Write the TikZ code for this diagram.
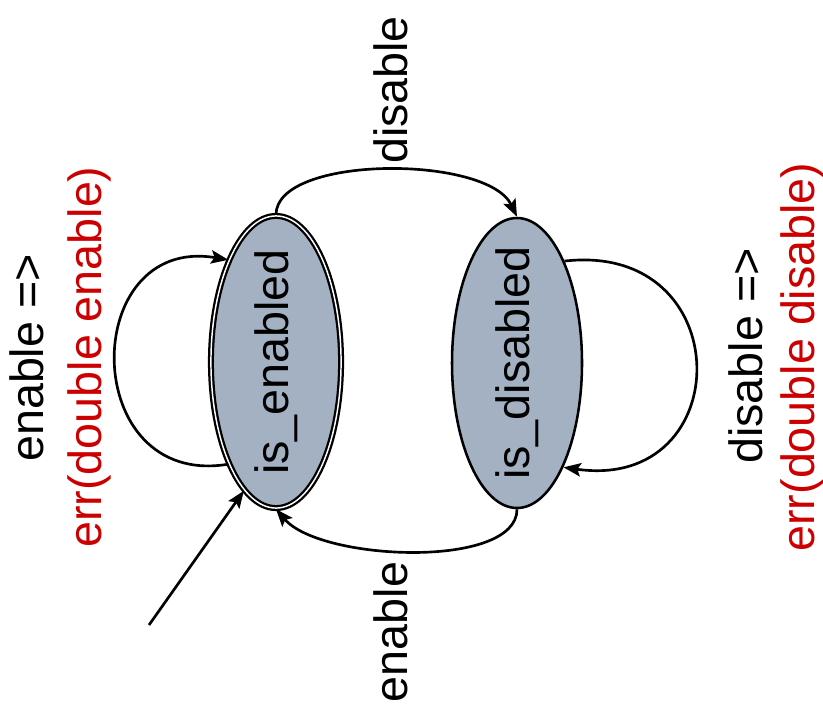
\documentclass[tikz,border=0pt]{standalone}
\usepackage{fontspec}
\setmainfont{Liberation Sans}
\usepackage{xcolor}
\usepackage{tikz}
\usetikzlibrary{shapes,arrows.meta,positioning}
\tikzset{>={Stealth[length=13pt,width=10pt,inset=2.5pt]}}
\definecolor{statefill}{RGB}{163,177,194}
\definecolor{errred}{RGB}{204,0,0}
\newcommand{\vtext}[1]{\rotatebox{90}{\makebox[0pt]{#1}}}

\begin{document}
\begin{tikzpicture}[x=0.75pt,y=-0.75pt,
                    state/.style={ellipse, draw, line width=1.9pt, fill=statefill, inner sep=0pt,
                                  minimum width=97.5pt, minimum height=217.5pt,
                                  font=\fontsize{35}{40}\selectfont},
                    startstate/.style={state, line width=1.7pt, double=white, double distance=1.1pt,
                                       minimum width=97.6pt, minimum height=219.1pt},
                    trans/.style={line width=2pt, ->},
                    lab/.style={rotate=90, anchor=base, inner sep=0pt, font=\fontsize{35}{40}\selectfont},
                    errlab/.style={lab, text=errred},
                   ]

\useasboundingbox (0,0) rectangle (823,720);

\node[startstate] (en) at (276,362) {\vtext{is\_enabled}};
\node[state] (dis) at (517,363) {\vtext{is\_disabled}};

\coordinate (init) at (149,625);
\draw[trans] (init) -- (en.256);

\draw[trans] (en.north) .. controls +(0,-60) and +(-30,-62) .. (dis.north);
\draw[trans] (dis.south) .. controls +(0,60) and +(45,52) .. (en.south);

\draw[trans] (en.245) .. controls +(-150,25) and +(-150,-25) .. (en.115);
\draw[trans] (dis.65) .. controls +(175,-20) and +(175,25) .. (dis.294);

\node[lab] (disablelab) at (407,90) {disable};
\node[lab] (enablelab) at (407,632) {enable};

\node[lab] (enself) at (43,358) {enable =>};
\node[errlab] (enerr) at (101,357) {err(double enable)};

\node[lab] (disself) at (762,356) {disable =>};
\node[errlab] (diserr) at (814,357) {err(double disable)};

\end{tikzpicture}
\end{document}
